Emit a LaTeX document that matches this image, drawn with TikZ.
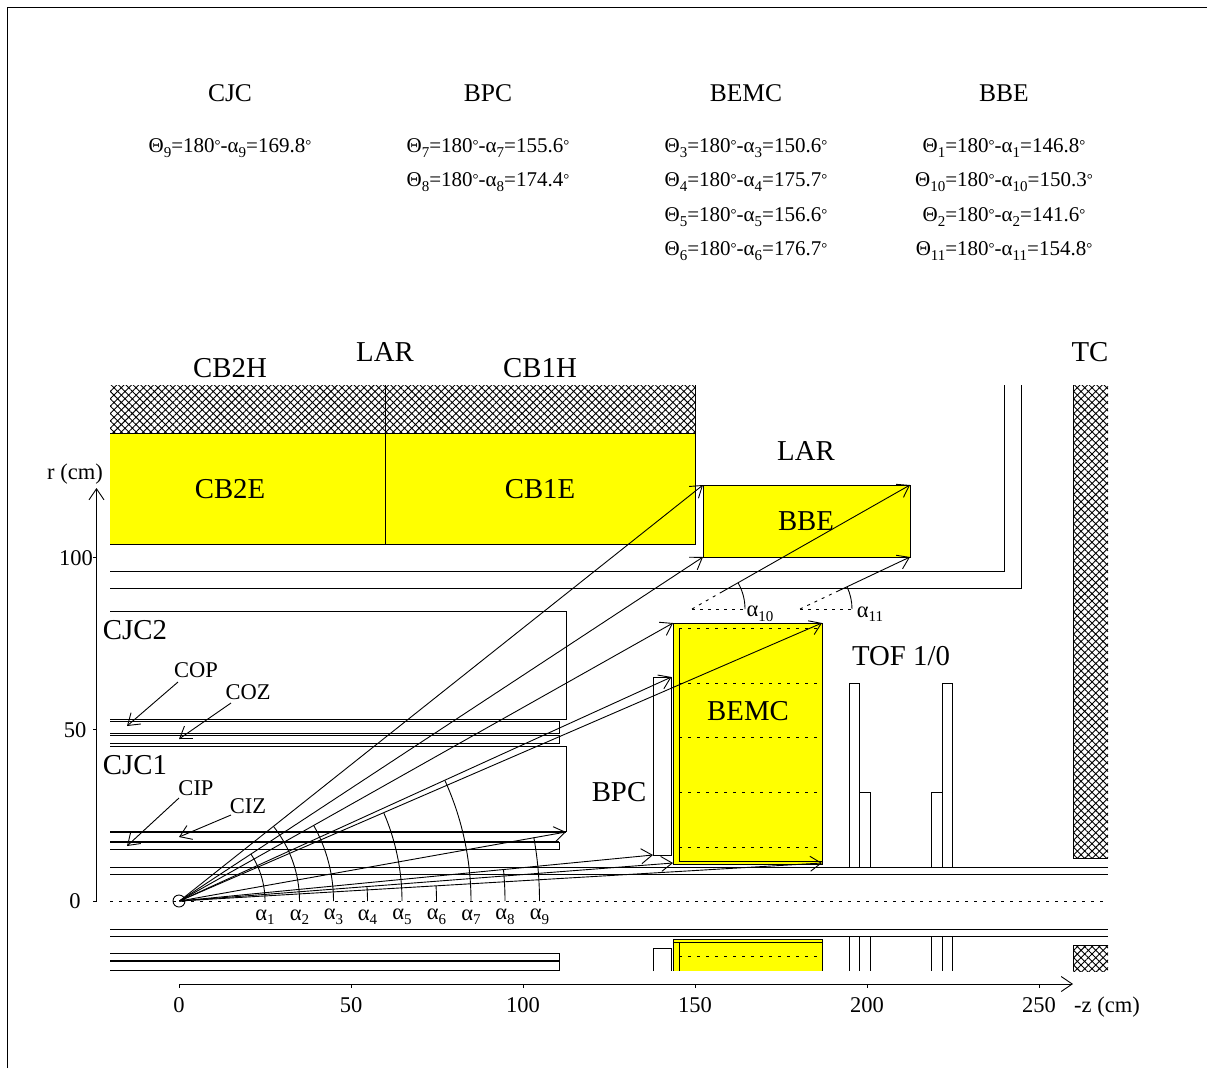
\documentclass[tikz,border=0pt]{standalone}
\usepackage{fontspec}
\setmainfont{Liberation Serif}
\usetikzlibrary{arrows.meta}
\usetikzlibrary{patterns.meta}
\definecolor{caloyellow}{RGB}{255,255,0}
\tikzset{
    lbl/.style = {inner sep=0pt, font=\fontsize{28.8}{29}\selectfont},
    lblm/.style = {inner sep=0pt, font=\fontsize{25.5}{26}\selectfont},
    lbls/.style = {inner sep=0pt, font=\fontsize{21}{21}\selectfont},
    lblt/.style = {inner sep=0pt, font=\fontsize{22.5}{23}\selectfont},
    hatched/.style = {pattern={Hatch[angle=45,distance=5.2pt,line width=0.9pt]}},
    part/.style = {draw=black, line width=0.9pt},
    ray/.style = {-{Straight Barb[length=11pt,width=15pt]}, line width=0.9pt},
    rayd/.style = {dashed, dash pattern=on 3pt off 5pt, line width=0.9pt},
    anglearc/.style = {line width=0.9pt},
    dotline/.style = {dash pattern=on 3pt off 6pt, line width=0.9pt},
}
\newcommand{\lowidx}[1]{\raisebox{-4.5pt}{\fontsize{15}{15}\selectfont #1}}
\newcommand{\dg}{\raisebox{2.5pt}{\fontsize{15}{15}\selectfont °}}
\begin{document}
\begin{tikzpicture}[x=1pt, y=-1pt, line width=0.9pt]
\useasboundingbox (0,0) rectangle (1207,1068);
\draw (7,1068) -- (7,7) -- (1207,7);
% headings
\node[lblm] at (230,93) (hcjc) {CJC};
\node[lblm] at (488,93) (hbpc) {BPC};
\node[lblm] at (746,93) (hbemc) {BEMC};
\node[lblm] at (1004,93) (hbbe) {BBE};
\node[lbls] at (230,148) (t9) {Θ\lowidx{9}=180\dg-α\lowidx{9}=169.8\dg};
\node[lbls] at (488,148) (t7) {Θ\lowidx{7}=180\dg-α\lowidx{7}=155.6\dg};
\node[lbls] at (488,182) (t8) {Θ\lowidx{8}=180\dg-α\lowidx{8}=174.4\dg};
\node[lbls] at (746,148) (t3) {Θ\lowidx{3}=180\dg-α\lowidx{3}=150.6\dg};
\node[lbls] at (746,182) (t4) {Θ\lowidx{4}=180\dg-α\lowidx{4}=175.7\dg};
\node[lbls] at (746,217) (t5) {Θ\lowidx{5}=180\dg-α\lowidx{5}=156.6\dg};
\node[lbls] at (746,251) (t6) {Θ\lowidx{6}=180\dg-α\lowidx{6}=176.7\dg};
\node[lbls] at (1004,148) (t1) {Θ\lowidx{1}=180\dg-α\lowidx{1}=146.8\dg};
\node[lbls] at (1004,182) (t10) {Θ\lowidx{10}=180\dg-α\lowidx{10}=150.3\dg};
\node[lbls] at (1004,217) (t2) {Θ\lowidx{2}=180\dg-α\lowidx{2}=141.6\dg};
\node[lbls] at (1004,251) (t11) {Θ\lowidx{11}=180\dg-α\lowidx{11}=154.8\dg};
% LAR barrel
\fill[caloyellow] (110,433) rectangle (695,544);
\fill[hatched] (110,385) rectangle (695,433);
\draw (110,433) -- (695,433);
\draw (110,544) -- (695,544) -- (695,385);
\draw (385,385) -- (385,544);
\draw (110,571) -- (1004,571) -- (1004,385);
\draw (110,588) -- (1021,588) -- (1021,385);
\draw[part,fill=caloyellow] (703,485) rectangle (910,557);
% TC
\fill[hatched] (1073,385) rectangle (1108,858);
\draw (1073,385) -- (1073,858) -- (1108,858);
\fill[hatched] (1073,945) rectangle (1108,971);
\draw (1073,971) -- (1073,945) -- (1108,945);
% CJC
\draw (110,611) -- (566,611) -- (566,719) -- (110,719);
\draw (110,721) -- (559,721) -- (559,733) -- (110,733);
\draw (110,735) -- (559,735) -- (559,743) -- (110,743);
\draw (110,746) -- (566,746) -- (566,832);
\draw[line width=1.4pt] (110,832) -- (566,832);
\draw[line width=1.4pt] (110,842) -- (559,842);
\draw (559,842) -- (559,849) -- (110,849);
\draw (110,953) -- (559,953) -- (559,970) -- (110,970);
\draw[line width=1.8pt] (110,961) -- (559,961);
% beam pipe
\draw (110,867) -- (1108,867);
\draw (110,874) -- (1108,874);
\draw (110,929) -- (1108,929);
\draw (110,936) -- (1108,936);
\draw[dotline] (110,901) -- (1108,901);
% BPC
\draw[part] (653,855) rectangle (671.5,677);
\draw (653,971) -- (653,948) -- (671.5,948) -- (671.5,971);
% BEMC
\draw[part,fill=caloyellow] (673,623) rectangle (822,864);
\draw (679,628) -- (679,861) -- (822,861);
\draw[dotline] (679,628) -- (822,628);
\draw[dotline] (679,683) -- (817,683);
\draw[dotline] (679,737) -- (817,737);
\draw[dotline] (679,792) -- (817,792);
\draw[dotline] (679,847) -- (817,847);
\fill[caloyellow] (673,939) rectangle (822,971);
\draw (673,971) -- (673,939) -- (822,939) -- (822,971);
\draw (673,942) -- (822,942);
\draw (679,942) -- (679,971);
\draw[dotline] (679,956) -- (817,956);
% TOF
\draw[part] (849.5,867) rectangle (859.5,683);
\draw[part] (859.5,867) rectangle (870.5,792);
\draw[part] (931.5,867) rectangle (942.5,792);
\draw[part] (942.5,867) rectangle (952.5,683);
\draw (849.5,936) -- (849.5,971);
\draw (859.5,936) -- (859.5,971);
\draw (870.5,936) -- (870.5,971);
\draw (931.5,936) -- (931.5,971);
\draw (942.5,936) -- (942.5,971);
\draw (952.5,936) -- (952.5,971);
% end points of the rays
\node[circle,draw=black,inner sep=0pt,minimum size=12pt] at (179,901) (ip) {};
\coordinate (o) at (179.5,901);
\coordinate (a1) at (703,557);
\coordinate (a2) at (703,485);
\coordinate (a3) at (673,623);
\coordinate (a4) at (673,863);
\coordinate (a5) at (822,623);
\coordinate (a6) at (822,863);
\coordinate (a7) at (671.5,677);
\coordinate (a8) at (653,855);
\coordinate (a9) at (566,832);
\coordinate (a10) at (910,485);
\coordinate (a11) at (910,557);
\coordinate (p10) at (692,609);
\coordinate (q10) at (720,593);
\coordinate (p11) at (800,609);
\coordinate (q11) at (837,591.5);
\coordinate (e10) at (745,609);
\coordinate (e11) at (852,609);
%
\draw[ray] (o) -- (a1);
\draw[ray] (o) -- (a2);
\draw[ray] (o) -- (a3);
\draw[ray] (o) -- (a4);
\draw[ray] (o) -- (a5);
\draw[ray] (o) -- (a6);
\draw[ray] (o) -- (a7);
\draw[ray] (o) -- (a8);
\draw[ray] (o) -- (a9);
\draw[ray] (q10) -- (a10);
\draw[ray] (q11) -- (a11);
\draw[rayd] (p10) -- (q10);
\draw[rayd] (p11) -- (q11);
\draw[rayd] (p10) -- (e10);
\draw[rayd] (p11) -- (e11);
% angles
\draw[anglearc] (265,901) arc[start angle=0,end angle=-33.2,radius=85.5];
\draw[anglearc] (299.5,901) arc[start angle=0,end angle=-38.4,radius=120];
\draw[anglearc] (333.5,901) arc[start angle=0,end angle=-29.4,radius=154];
\draw[anglearc] (367.5,901) arc[start angle=0,end angle=-4.3,radius=188];
\draw[anglearc] (402,901) arc[start angle=0,end angle=-23.4,radius=222.5];
\draw[anglearc] (436.5,901) arc[start angle=0,end angle=-3.3,radius=257];
\draw[anglearc] (471,901) arc[start angle=0,end angle=-24.4,radius=291.5];
\draw[anglearc] (505,901) arc[start angle=0,end angle=-5.6,radius=325.5];
\draw[anglearc] (539.5,901) arc[start angle=0,end angle=-10.2,radius=360];
\draw[anglearc] (e10) arc[start angle=0,end angle=-29.7,radius=53];
\draw[anglearc] (e11) arc[start angle=0,end angle=-25.2,radius=52];
%
\node[lblt] at (265,917) (l1) {α\lowidx{1}};
\node[lblt] at (299.5,917) (l2) {α\lowidx{2}};
\node[lblt] at (333.5,917) (l3) {α\lowidx{3}};
\node[lblt] at (367.5,917) (l4) {α\lowidx{4}};
\node[lblt] at (402,917) (l5) {α\lowidx{5}};
\node[lblt] at (436.5,917) (l6) {α\lowidx{6}};
\node[lblt] at (471,917) (l7) {α\lowidx{7}};
\node[lblt] at (505,917) (l8) {α\lowidx{8}};
\node[lblt] at (539.5,917) (l9) {α\lowidx{9}};
\node[lblt] at (760,614) (l10) {α\lowidx{10}};
\node[lblt] at (870,614) (l11) {α\lowidx{11}};
% names
\node[lbl] at (230,368) (cb2h) {CB2H};
\node[lbl] at (385,352) (lar1) {LAR};
\node[lbl] at (540,368) (cb1h) {CB1H};
\node[lbl] at (230,489) (cb2e) {CB2E};
\node[lbl] at (540,489) (cb1e) {CB1E};
\node[lbl] at (806,451) (lar2) {LAR};
\node[lbl] at (806,521) (bbe) {BBE};
\node[lbl] at (1090,352) (tc) {TC};
\node[lbl] at (135,630) (cjc2) {CJC2};
\node[lbl] at (135,765) (cjc1) {CJC1};
\node[lbl] at (748,711) (bemc) {BEMC};
\node[lbl] at (619,792) (bpc) {BPC};
\node[lbl] at (901,656) (tof) {TOF 1/0};
\node[lblt] at (196,670) (cop) {COP};
\node[lblt] at (248,692) (coz) {COZ};
\node[lblt] at (196,788) (cip) {CIP};
\node[lblt] at (248,806) (ciz) {CIZ};
%
\coordinate (copa) at (178,682);
\coordinate (copb) at (127,726);
\coordinate (coza) at (231,703);
\coordinate (cozb) at (179,739);
\coordinate (cipa) at (179,798);
\coordinate (cipb) at (127,846);
\coordinate (ciza) at (231,815);
\coordinate (cizb) at (179,837);
\draw[ray] (copa) -- (copb);
\draw[ray] (coza) -- (cozb);
\draw[ray] (cipa) -- (cipb);
\draw[ray] (ciza) -- (cizb);
% axes
\coordinate (zs) at (179,984);
\coordinate (ze) at (1073,984);
\coordinate (rs) at (96.5,901.5);
\coordinate (re) at (96.5,488);
\draw[ray] (zs) -- (ze);
\draw[ray] (rs) -- (re);
\draw (179,984) -- (179,988);
\draw (351,984) -- (351,988);
\draw (523,984) -- (523,988);
\draw (695,984) -- (695,988);
\draw (867,984) -- (867,988);
\draw (1039,984) -- (1039,988);
\draw (96.5,901.5) -- (92.5,901.5);
\draw (96.5,729.5) -- (92.5,729.5);
\draw (96.5,557.5) -- (92.5,557.5);
\node[lblt] at (179,1005) (z0) {0};
\node[lblt] at (351,1005) (z50) {50};
\node[lblt] at (523,1005) (z100) {100};
\node[lblt] at (695,1005) (z150) {150};
\node[lblt] at (867,1005) (z200) {200};
\node[lblt] at (1039,1005) (z250) {250};
\node[lblt] at (1107,1007) (zl) {-z (cm)};
\node[lblt] at (75,901) (r0) {0};
\node[lblt] at (75,730) (r50) {50};
\node[lblt] at (76,558) (r100) {100};
\node[lblt] at (75,474.5) (rl) {r (cm)};
\end{tikzpicture}
\end{document}
